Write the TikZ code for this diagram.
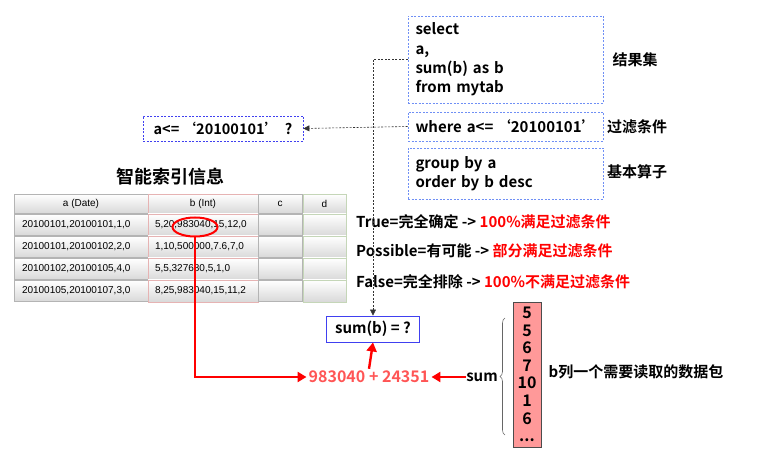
\documentclass[tikz,border=0pt]{standalone}
\usepackage{fontspec}
\setmainfont{Noto Sans CJK SC}[BoldFont={Noto Sans CJK SC Bold}]
\newfontfamily\cellfont{Liberation Sans}
\usetikzlibrary{arrows.meta,shapes.geometric,decorations.pathreplacing}

\definecolor{qblue}{HTML}{6F8FF5}
\definecolor{boxblue}{HTML}{4040F0}
\definecolor{pinkcell}{HTML}{FFCCCC}
\definecolor{pinkline}{HTML}{E6B3B3}
\definecolor{greencell}{HTML}{E3EFDA}
\definecolor{greenline}{HTML}{C5D6B8}
\definecolor{grayline}{HTML}{B4B4B4}
\definecolor{sumred}{HTML}{FF5555}
\definecolor{packred}{HTML}{FF9999}

\tikzset{
  txt/.style={font=\bfseries\fontsize{15}{19.3}\selectfont, inner sep=0pt},
  query/.style={txt, draw=qblue, dash pattern=on 2pt off 1.5pt, line width=0.8pt,
    minimum width=195pt, text width=180pt, inner xsep=7.5pt, align=left},
  grey cell/.style={draw=grayline, top color=white, bottom color=black!15,
    minimum height=21pt, inner sep=0pt, font=\cellfont\fontsize{10}{12}\selectfont},
  pink cell/.style={grey cell, fill=pinkcell, draw=pinkline, minimum height=22pt},
  green cell/.style={grey cell, fill=greencell, draw=greenline, minimum height=22pt},
  redarr/.style={draw=red, line width=2.4pt, -{Triangle[length=9pt,width=10pt]}},
  dasharr/.style={draw=black!80, dash pattern=on 2pt off 1.5pt, line width=0.6pt,
    -{Triangle[length=6pt,width=6pt]}}
}

\begin{document}
\begin{tikzpicture}[x=1pt, y=-1pt]
  \useasboundingbox (0,0) rectangle (758,457);

  % Query boxes
  \node[query, minimum height=87pt] (qsel) at (505.5,59.5) {select\\a,\\sum(b) as b\\from mytab};
  \node[query, minimum height=29pt] (qwhere) at (505.5,126.5) {\mbox{where a<=\,‘20100101’}};
  \node[query, minimum height=51pt] (qgroup) at (505.5,173.5) {group by a\\order by b desc};
  \node[txt] (lres) at (635,60) {结果集};
  \node[txt] (lcond) at (637,127) {过滤条件};
  \node[txt] (lops) at (637,172) {基本算子};

  \node[txt, font=\bfseries\fontsize{14.5}{16}\selectfont, draw=boxblue, dash pattern=on 2pt off 1.5pt,
    line width=0.8pt, minimum width=160pt, minimum height=25pt] (qcond) at (223,128.5) {a<=\,‘20100101’\, ?};

  % Index table
  \node[font=\bfseries\fontsize{18}{20}\selectfont] (title) at (170,177) {智能索引信息};
  \node[grey cell, minimum width=134pt, minimum height=19pt] (ha) at (81,203.5) {a (Date)};
  \node[pink cell, minimum width=110pt, minimum height=19pt] (hb) at (203,203.5) {b (Int)};
  \node[grey cell, minimum width=44pt, minimum height=19pt] (hc) at (280,203.5) {c};
  \node[green cell, minimum width=43pt, minimum height=19pt] (hd) at (324.5,203.5) {d};
  \foreach \a/\b [count=\n] in {
    {20100101,20100101,1,0}/{5,20,983040,15,12,0},
    {20100101,20100102,2,0}/{1,10,500000,7.6,7,0},
    {20100102,20100105,4,0}/{5,5,327680,5,1,0},
    {20100105,20100107,3,0}/{8,25,983040,15,11,2}
  } {
    \node[grey cell, minimum width=134pt, text width=118pt] (a\n) at (81,203+22*\n) {\a};
    \node[pink cell, minimum width=110pt, text width=96pt] (b\n) at (203,203+22*\n) {\b};
    \node[grey cell, minimum width=44pt] (c\n) at (280,203+22*\n) {};
    \node[green cell, minimum width=43pt] (d\n) at (324.5,203+22*\n) {};
  }
  \node[draw=red, line width=2pt, ellipse, minimum width=45pt, minimum height=19pt] (hit) at (195,227) {};

  % Filter results
  \node[txt, anchor=west] (ltrue) at (356,222) {True=完全确定 -> \textcolor{red}{100\%满足过滤条件}};
  \node[txt, anchor=west] (lposs) at (356,251) {Possible=有可能 -> \textcolor{red}{部分满足过滤条件}};
  \node[txt, anchor=west] (lfalse) at (356,282) {False=完全排除 -> \textcolor{red}{100\%不满足过滤条件}};

  % Sum
  \node[txt, draw=boxblue, line width=0.9pt, minimum width=93pt, minimum height=26pt] (sumbox) at (373,329) {sum(b) = ?};
  \node[txt, text=sumred, inner sep=2pt, font=\bfseries\fontsize{16}{19}\selectfont] (total) at (369,377) {983040 + 24351};
  \node[txt] (sumlbl) at (482,377) {sum};
  \node[txt, fill=packred, draw=black!70, line width=0.8pt, minimum width=28pt, minimum height=145pt,
    align=center, font=\bfseries\fontsize{16}{17.6}\selectfont] (bpack) at (527,374.5) {5\\5\\6\\7\\10\\1\\6\\...};
  \node[txt] (lpack) at (636,372) {b列一个需要读取的数据包};
  \draw[decorate, decoration={brace, amplitude=5pt}, black!60, line width=0.6pt] (505,435) -- (505,318);

  % Connectors
  \draw[dasharr] (qsel.west) -| (sumbox.north);
  \draw[dasharr] (qwhere.west) -- (qcond.east);
  \draw[redarr] (hit.south) |- (total.west);
  \draw[redarr] (sumlbl.west) -- (total.east);
  \draw[redarr] (total.north) -- (sumbox.south);
\end{tikzpicture}
\end{document}
